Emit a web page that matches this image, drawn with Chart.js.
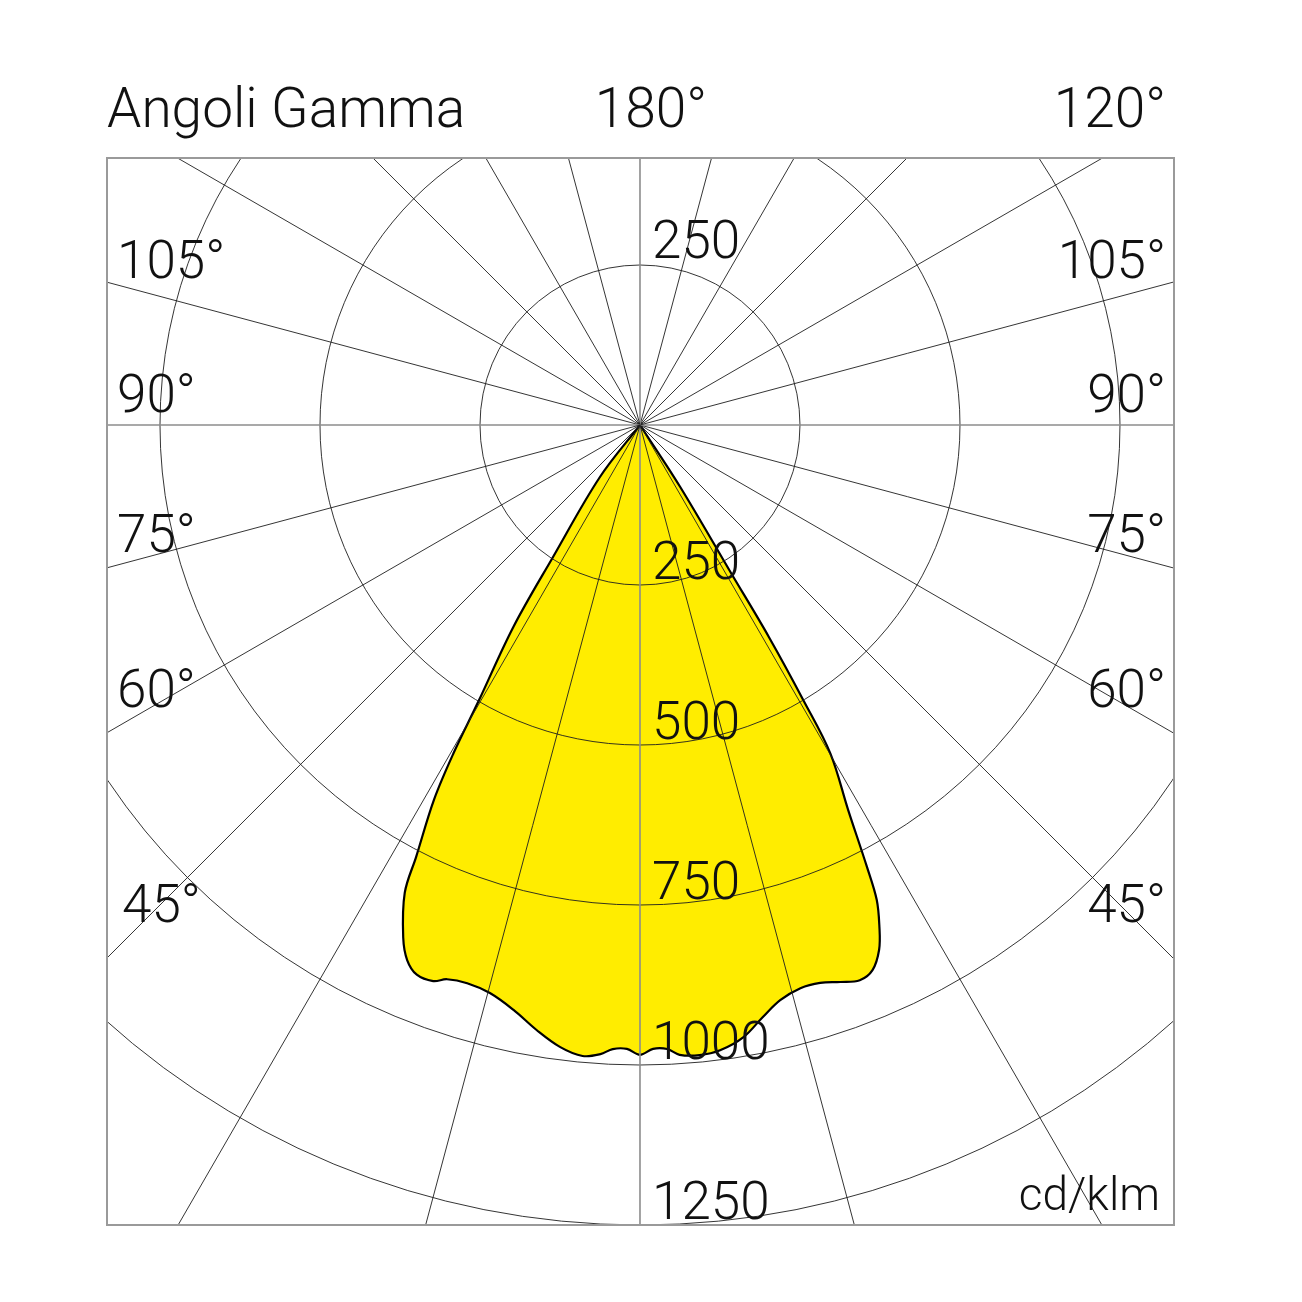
<!DOCTYPE html>
<html>
<head>
<meta charset="utf-8">
<title>Angoli Gamma</title>
<script src="https://cdn.jsdelivr.net/npm/chart.js@4.4.0/dist/chart.umd.min.js"></script>
<style>
  html, body { margin: 0; padding: 0; background: #fff; }
  canvas { display: block; }
</style>
</head>
<body>
<canvas id="polar_chart" width="1302" height="1302"></canvas>
<script>
// gamma angle in degrees (negative = left half of the plane)
var gammaDeg = [-39, -37.6, -33.4, -32.1, -30.3, -29.6, -28.8, -27.4, -26.7, -24.8,
    -23.5, -22.1, -20.4, -19.2, -17.2, -14.8, -12.2, -9.7, -7.3, -5.2,
    -3.6, -2.5, -1.2, 0, 1.2, 2.5, 3.6, 5.4, 7.3, 9.6,
    11.7, 13.7, 15.9, 17.9, 19.8, 21.6, 23.1, 24.5, 25.5, 26.5,
    27.2, 28.4, 30.1, 30.7, 31.3, 31.6, 33, 36];
// luminous intensity, cd/klm
var intensity = [0, 103, 246, 372, 501, 590, 668, 760, 818, 882,
    912, 927, 927, 917, 913, 918, 935, 959, 980, 990,
    985, 976, 975, 984, 975, 976, 986, 989, 985, 970,
    945, 925, 915, 916, 925, 933, 926, 901, 869, 829,
    775, 684, 593, 500, 388, 271, 115, 0];

var ringValues = [250, 500, 750, 1000, 1250];
var spokeAngles = [0, 15, 30, 45, 60, 75, 90, 105, 120, 135, 150, 165,
    180, 195, 210, 225, 240, 255, 270, 285, 300, 315, 330, 345];
var sideLabels = ['105°', '90°', '75°', '60°', '45°'];
var sideLabelY = [-147, -13, 127, 282, 497];   // baseline offset from centre, px
var topLabels = ['180°', '120°'];
var titleText = 'Angoli Gamma';
var unitText = 'cd/klm';

var FONT = '"Roboto", "Liberation Sans", sans-serif';

function toPoints() {
    var pts = [];
    for (var i = 0; i < gammaDeg.length; i++) {
        var g = gammaDeg[i] * Math.PI / 180;
        pts.push({ x: intensity[i] * Math.sin(g), y: -intensity[i] * Math.cos(g) });
    }
    return pts;
}

var polarGrid = {
    id: 'polarGrid',
    // the filler clips by x range, which fails for a closed loop, so fill the line's own path
    beforeDatasetsDraw: function (chart) {
        var ctx = chart.ctx;
        var meta = chart.getDatasetMeta(0);
        ctx.save();
        ctx.beginPath();
        meta.dataset.path(ctx);
        ctx.closePath();
        ctx.fillStyle = '#ffed00';
        ctx.fill();
        ctx.restore();
    },
    afterDatasetsDraw: function (chart) {
        var ctx = chart.ctx, a = chart.chartArea;
        var xs = chart.scales.x, ys = chart.scales.y;
        var cx = xs.getPixelForValue(0), cy = ys.getPixelForValue(0);
        ctx.save();
        ctx.beginPath();
        ctx.rect(a.left, a.top, a.right - a.left, a.bottom - a.top);
        ctx.clip();
        ctx.strokeStyle = '#1e1e1e';
        ctx.lineWidth = 0.9;
        ringValues.forEach(function (v) {
            var r = xs.getPixelForValue(v) - cx;
            ctx.beginPath();
            ctx.arc(cx, cy, r, 0, Math.PI * 2);
            ctx.stroke();
        });
        spokeAngles.forEach(function (g) {
            var rad = g * Math.PI / 180;
            var far = 3000;
            var axis = g % 90 === 0;
            ctx.beginPath();
            ctx.moveTo(cx, cy);
            ctx.lineTo(xs.getPixelForValue(far * Math.sin(rad)), ys.getPixelForValue(-far * Math.cos(rad)));
            ctx.strokeStyle = axis ? '#8c8c8c' : '#1e1e1e';
            ctx.lineWidth = axis ? 1.6 : 0.9;
            ctx.stroke();
        });
        ctx.restore();

        ctx.save();
        ctx.strokeStyle = '#9a9a9a';
        ctx.lineWidth = 2;
        ctx.strokeRect(a.left, a.top, a.right - a.left, a.bottom - a.top);
        ctx.restore();
    },
    afterDraw: function (chart) {
        var ctx = chart.ctx, a = chart.chartArea;
        var xs = chart.scales.x, ys = chart.scales.y;
        var cx = xs.getPixelForValue(0), cy = ys.getPixelForValue(0);
        ctx.save();
        ctx.fillStyle = '#111';
        ctx.textBaseline = 'alphabetic';

        ctx.font = '300 55px ' + FONT;
        ctx.textAlign = 'left';
        ctx.fillText(titleText, a.left, a.top - 31);
        ctx.textAlign = 'center';
        ctx.fillText(topLabels[0], cx + 11, a.top - 31);
        ctx.textAlign = 'right';
        ctx.fillText(topLabels[1], a.right - 8, a.top - 31);

        ctx.font = '300 53px ' + FONT;
        sideLabels.forEach(function (t, i) {
            ctx.textAlign = 'left';
            ctx.fillText(t, a.left + (i === 4 ? 15 : 10), cy + sideLabelY[i]);
            ctx.textAlign = 'right';
            ctx.fillText(t, a.right - 8, cy + sideLabelY[i]);
        });

        // ring values
        ctx.textAlign = 'left';
        ctx.fillText(String(ringValues[0]), cx + 12, ys.getPixelForValue(ringValues[0]) - 7);
        ringValues.forEach(function (v) {
            ctx.fillText(String(v), cx + 12, ys.getPixelForValue(-v) - 6);
        });

        ctx.font = '300 46px ' + FONT;
        ctx.textAlign = 'right';
        ctx.fillText(unitText, a.right - 14, a.bottom - 15);
        ctx.restore();
    }
};

new Chart(document.getElementById('polar_chart').getContext('2d'), {
    type: 'line',
    data: {
        datasets: [{
            label: 'I (cd/klm)',
            data: toPoints(),
            tension: 0.35,
            fill: false,
            borderColor: '#000',
            borderWidth: 2.2,
            pointRadius: 0,
            pointHoverRadius: 0
        }]
    },
    options: {
        responsive: false,
        animation: false,
        devicePixelRatio: 1,
        layout: { padding: { left: 107, top: 158, right: 128, bottom: 77 } },
        plugins: { legend: { display: false }, tooltip: { enabled: false } },
        scales: {
            x: { type: 'linear', display: false, min: -832.8, max: 834.4 },
            y: { type: 'linear', display: false, min: -1250, max: 417.2 }
        }
    },
    plugins: [polarGrid]
});
</script>
</body>
</html>
